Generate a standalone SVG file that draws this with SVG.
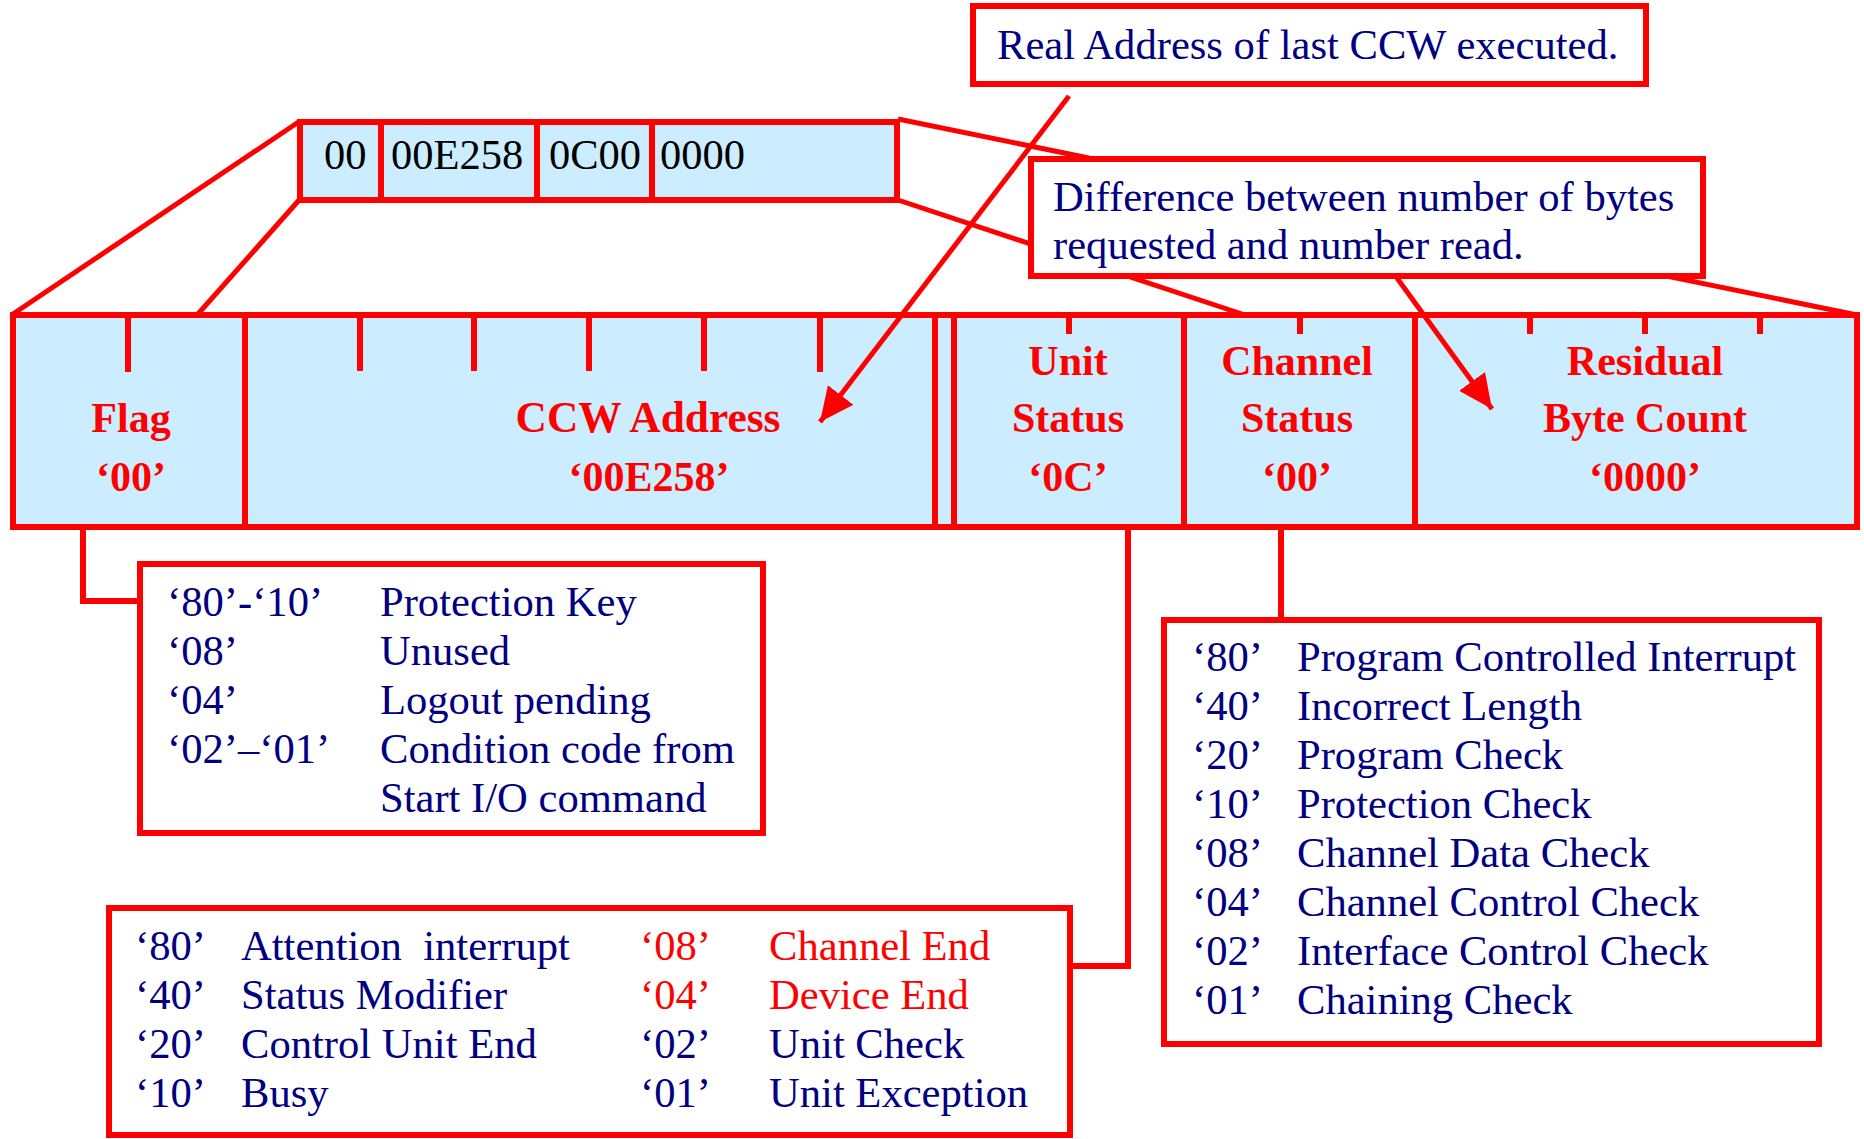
<svg xmlns="http://www.w3.org/2000/svg" width="1864" height="1139" viewBox="0 0 1864 1139">
<style>
.bx{fill:#ffffff;stroke:#ff0000;stroke-width:6}
.cell{fill:#ccecff;stroke:#ff0000;stroke-width:6}
.ln{fill:none;stroke:#ff0000;stroke-width:6}
.tn{fill:none;stroke:#ff0000;stroke-width:5}
.ar{fill:none;stroke:#ff0000;stroke-width:5}
.t{font-family:"Liberation Serif","Times New Roman",serif;font-size:42.6px;fill:#000080}
.tr{font-family:"Liberation Serif","Times New Roman",serif;font-size:42.6px;fill:#ff0000}
.hb{font-family:"Liberation Serif","Times New Roman",serif;font-size:42.5px;fill:#000000}
.lb{font-family:"Liberation Serif","Times New Roman",serif;font-size:42px;font-weight:bold;fill:#ff0000;text-anchor:middle}
</style>
<defs>
<marker id="ah" markerUnits="userSpaceOnUse" markerWidth="36" markerHeight="34" refX="34" refY="16" orient="auto">
<path d="M0,0 L34,16 L0,32 z" fill="#ff0000"/>
</marker>
</defs>
<rect width="1864" height="1139" fill="#ffffff"/>

<g id="connectors">
<line class="tn" x1="300" y1="121" x2="13" y2="314"/>
<line class="tn" x1="300" y1="199" x2="198" y2="314"/>
<line class="tn" x1="898" y1="119" x2="1857" y2="315"/>
<line class="tn" x1="898" y1="200" x2="1245" y2="315"/>
</g>

<g id="word">
<rect class="cell" x="300" y="122" width="597" height="78"/>
<line class="ln" x1="381" y1="122" x2="381" y2="200"/>
<line class="ln" x1="537" y1="122" x2="537" y2="200"/>
<line class="ln" x1="652" y1="122" x2="652" y2="200"/>
<text class="hb" x="324" y="169">00</text>
<text class="hb" x="391" y="169">00E258</text>
<text class="hb" x="549" y="169">0C00</text>
<text class="hb" x="660" y="169">0000</text>
</g>

<g id="register">
<rect class="cell" x="13" y="315" width="1844" height="212"/>
<line class="ln" x1="245" y1="315" x2="245" y2="527"/>
<line class="ln" x1="935" y1="315" x2="935" y2="527"/>
<line class="ln" x1="954" y1="315" x2="954" y2="527"/>
<line class="ln" x1="1184" y1="315" x2="1184" y2="527"/>
<line class="ln" x1="1415" y1="315" x2="1415" y2="527"/>
<g class="ticks">
<line class="ln" x1="128" y1="315" x2="128" y2="372"/>
<line class="ln" x1="360" y1="315" x2="360" y2="371"/>
<line class="ln" x1="474" y1="315" x2="474" y2="371"/>
<line class="ln" x1="589" y1="315" x2="589" y2="371"/>
<line class="ln" x1="704" y1="315" x2="704" y2="371"/>
<line class="ln" x1="820" y1="315" x2="820" y2="372"/>
<line class="ln" x1="1069" y1="315" x2="1069" y2="334"/>
<line class="ln" x1="1300" y1="315" x2="1300" y2="334"/>
<line class="ln" x1="1530" y1="315" x2="1530" y2="334"/>
<line class="ln" x1="1645" y1="315" x2="1645" y2="334"/>
<line class="ln" x1="1760" y1="315" x2="1760" y2="334"/>
</g>
<text class="lb" x="131" y="432">Flag</text>
<text class="lb" x="131" y="491">‘00’</text>
<text class="lb" x="648" y="432" style="font-size:43.4px">CCW Address</text>
<text class="lb" x="649" y="491">‘00E258’</text>
<text class="lb" x="1068" y="375">Unit</text>
<text class="lb" x="1068" y="432">Status</text>
<text class="lb" x="1068" y="491">‘0C’</text>
<text class="lb" x="1297" y="375">Channel</text>
<text class="lb" x="1297" y="432">Status</text>
<text class="lb" x="1297" y="491">‘00’</text>
<text class="lb" x="1645" y="375">Residual</text>
<text class="lb" x="1645" y="432">Byte Count</text>
<text class="lb" x="1645" y="491">‘0000’</text>
</g>

<g id="real-address">
<rect class="bx" x="973" y="6" width="673" height="78"/>
<text class="t" x="997" y="59">Real Address of last CCW executed.</text>
</g>

<g id="difference">
<rect class="bx" x="1031" y="159" width="672" height="117"/>
<text class="t" x="1053" y="211">Difference between number of bytes</text>
<text class="t" x="1053" y="259">requested and number read.</text>
</g>

<g id="connectors2">
<line class="ar" x1="1069" y1="96" x2="820" y2="422" marker-end="url(#ah)"/>
<line class="ar" x1="1397" y1="278" x2="1492" y2="409" marker-end="url(#ah)"/>
<path class="ln" d="M83,527 V601 H140"/>
<path class="ln" d="M1128,527 V966 H1070"/>
<path class="ln" d="M1281,527 V620"/>
</g>

<g id="flag-box">
<rect class="bx" x="140" y="564" width="623" height="269"/>
<text class="t" x="167" y="616">‘80’-‘10’</text>
<text class="t" x="380" y="616">Protection Key</text>
<text class="t" x="167" y="665">‘08’</text>
<text class="t" x="380" y="665">Unused</text>
<text class="t" x="167" y="714">‘04’</text>
<text class="t" x="380" y="714">Logout pending</text>
<text class="t" x="167" y="763">‘02’–‘01’</text>
<text class="t" x="380" y="763">Condition code from</text>
<text class="t" x="380" y="812">Start I/O command</text>
</g>

<g id="channel-box">
<rect class="bx" x="1164" y="620" width="655" height="424"/>
<text class="t" x="1192" y="671">‘80’</text><text class="t" x="1297" y="671">Program Controlled Interrupt</text>
<text class="t" x="1192" y="720">‘40’</text><text class="t" x="1297" y="720">Incorrect Length</text>
<text class="t" x="1192" y="769">‘20’</text><text class="t" x="1297" y="769">Program Check</text>
<text class="t" x="1192" y="818">‘10’</text><text class="t" x="1297" y="818">Protection Check</text>
<text class="t" x="1192" y="867">‘08’</text><text class="t" x="1297" y="867">Channel Data Check</text>
<text class="t" x="1192" y="916">‘04’</text><text class="t" x="1297" y="916">Channel Control Check</text>
<text class="t" x="1192" y="965">‘02’</text><text class="t" x="1297" y="965">Interface Control Check</text>
<text class="t" x="1192" y="1014">‘01’</text><text class="t" x="1297" y="1014">Chaining Check</text>
</g>

<g id="unit-box">
<rect class="bx" x="109" y="908" width="961" height="227"/>
<text class="t" x="135" y="960">‘80’</text><text class="t" x="241" y="960" xml:space="preserve">Attention  interrupt</text>
<text class="t" x="135" y="1009">‘40’</text><text class="t" x="241" y="1009">Status Modifier</text>
<text class="t" x="135" y="1058">‘20’</text><text class="t" x="241" y="1058">Control Unit End</text>
<text class="t" x="135" y="1107">‘10’</text><text class="t" x="241" y="1107">Busy</text>
<text class="tr" x="640" y="960">‘08’</text><text class="tr" x="769" y="960">Channel End</text>
<text class="tr" x="640" y="1009">‘04’</text><text class="tr" x="769" y="1009">Device End</text>
<text class="t" x="640" y="1058">‘02’</text><text class="t" x="769" y="1058">Unit Check</text>
<text class="t" x="640" y="1107">‘01’</text><text class="t" x="769" y="1107">Unit Exception</text>
</g>
</svg>
